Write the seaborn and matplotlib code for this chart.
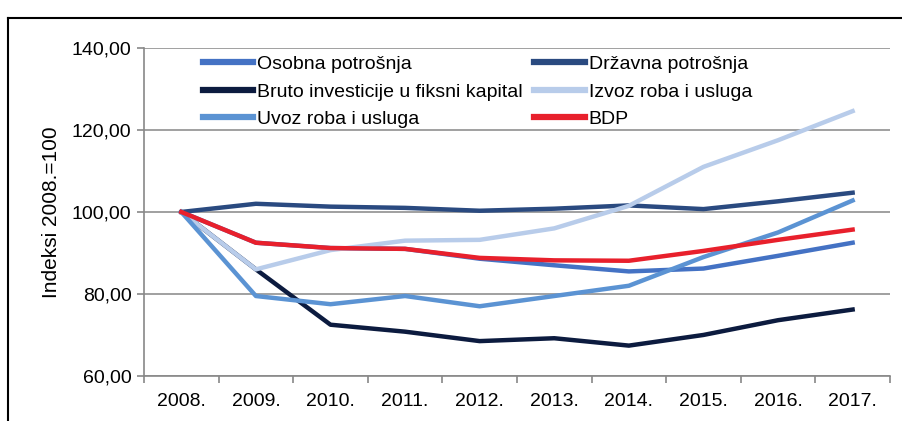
import seaborn as sns
import matplotlib.pyplot as plt
import pandas as pd
from matplotlib.lines import Line2D
from matplotlib.ticker import FuncFormatter, FixedLocator

years = ['2008.', '2009.', '2010.', '2011.', '2012.', '2013.', '2014.', '2015.', '2016.', '2017.']
osobna = [100, 92.5, 91.2, 91.0, 88.6, 87.0, 85.5, 86.2, 89.3, 92.5]
drzavna = [100, 102.0, 101.3, 101.0, 100.3, 100.8, 101.6, 100.7, 102.6, 104.7]
bruto = [100, 86.0, 72.5, 70.8, 68.5, 69.2, 67.4, 70.0, 73.6, 76.2]
izvoz = [100, 86.0, 90.7, 93.0, 93.2, 96.0, 101.5, 111.0, 117.5, 124.6]
uvoz = [100, 79.5, 77.5, 79.5, 77.0, 79.5, 82.0, 89.0, 95.0, 102.8]
bdp = [100, 92.5, 91.2, 91.0, 88.8, 88.2, 88.1, 90.5, 93.2, 95.7]

names = ['Osobna potrošnja', 'Državna potrošnja', 'Bruto investicije u fiksni kapital',
         'Izvoz roba i usluga', 'Uvoz roba i usluga', 'BDP']
colors = ['#4472C4', '#2A4A80', '#0C1B3F', '#B8CCEA', '#5B93D3', '#E8202C']

rows = []
for name, vals in zip(names, [osobna, drzavna, bruto, izvoz, uvoz, bdp]):
    for i, v in enumerate(vals):
        rows.append({'pos': i, 'serija': name, 'vrijednost': v})
df = pd.DataFrame(rows)

plt.rcParams['font.family'] = ['Liberation Sans', 'DejaVu Sans']
fig = plt.figure(figsize=(9.03, 4.21), dpi=100)
ax = fig.add_axes([0.1595, 0.107, 0.826, 0.779])

sns.lineplot(data=df, x='pos', y='vrijednost', hue='serija', hue_order=names,
             palette=colors, linewidth=3.2, ax=ax, sort=False)

ax.set_xlim(-0.5, 9.5)
ax.set_ylim(60, 140)
ax.set_yticks([60, 80, 100, 120, 140])
ax.yaxis.set_major_formatter(FuncFormatter(lambda v, p: f'{v:.2f}'.replace('.', ',')))
ax.set_xticks(range(10))
ax.set_xticklabels(years)
ax.xaxis.set_minor_locator(FixedLocator([i + 0.5 for i in range(-1, 10)]))
ax.tick_params(axis='x', which='major', length=0, labelsize=14, pad=12)
ax.tick_params(axis='x', which='minor', length=5, color='#888888', width=1.2)
ax.tick_params(axis='y', length=5, color='#888888', width=1.2, labelsize=14, pad=4)
ax.grid(axis='y', color='#A0A0A0', linewidth=1.4)
ax.set_axisbelow(True)
for s in ['top', 'right']:
    ax.spines[s].set_visible(False)
for s in ['left', 'bottom']:
    ax.spines[s].set_color('#888888')
    ax.spines[s].set_linewidth(1.2)
ax.set_xlabel('')
ax.set_ylabel('Indeksi 2008.=100', fontsize=15, labelpad=8)

# row-wise legend order like the original
handles, labels = ax.get_legend_handles_labels()
order = [0, 2, 4, 1, 3, 5]
leg = ax.legend([handles[i] for i in order], [labels[i] for i in order], ncol=2,
                loc='upper left', bbox_to_anchor=(0.055, 1.03), frameon=False,
                fontsize=14, handlelength=2.6, handletextpad=0.2,
                columnspacing=0.6, labelspacing=0.5)
for h in leg.get_lines():
    h.set_linewidth(4.5)

# outer frame lines
fig.add_artist(Line2D([0.009, 1.0], [0.957, 0.957], color='black', linewidth=1.5))
fig.add_artist(Line2D([0.009, 0.009], [0.0, 0.957], color='black', linewidth=1.5))

fig.savefig('out.png', dpi=100)
